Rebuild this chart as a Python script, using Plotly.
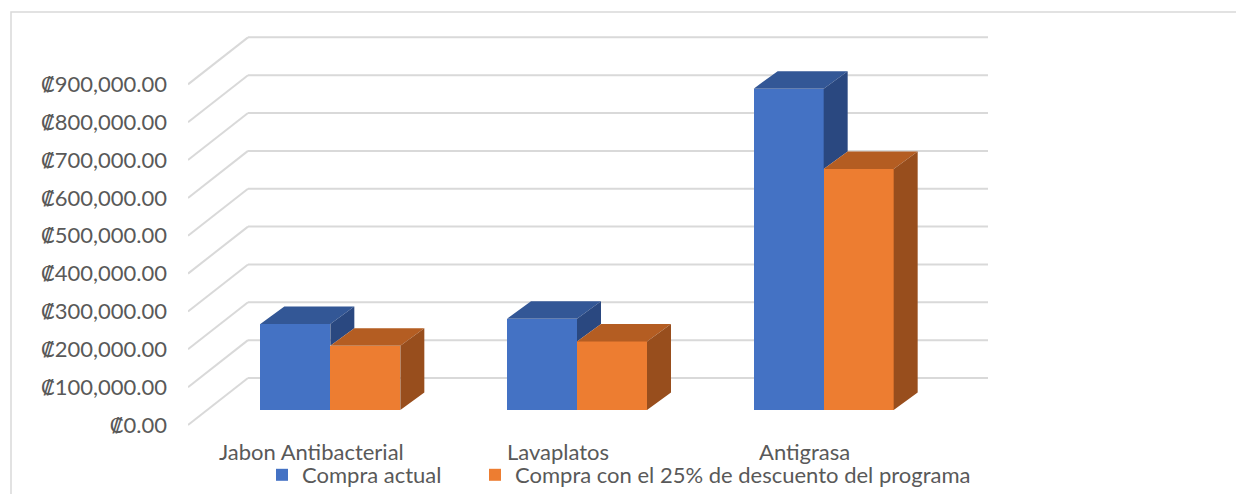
import plotly.graph_objects as go

# ---------------- data ----------------
categories = ["Jabon Antibacterial", "Lavaplatos", "Antigrasa"]
series_names = ["Compra actual", "Compra con el 25% de descuento del programa"]
compra_actual = [227000, 241000, 849000]
compra_descuento = [170000, 181000, 637000]
y_ticks = [0, 100000, 200000, 300000, 400000, 500000, 600000, 700000, 800000, 900000]
currency = "₡"

# ---------------- styling / projection (screen pixels) ----------------
VIEW_W, VIEW_H = 1244, 494
OFF = 8                               # page body margin
FW, FH = VIEW_W - OFF, VIEW_H - OFF   # figure size
PX_PER_UNIT = 37.85 / 100000.0        # vertical pixels per value unit
X0, Y0 = 188, 425                     # front-left floor corner (screen px)
FLOOR_W = 740                         # floor width along category axis (px)
WALL_DX, WALL_DY = 60, 47             # depth vector of the whole floor (px)
BAR_FRONT_DX, BAR_FRONT_DY = 19, 15   # offset of bar front faces (px)
BAR_W = 70
BAR_DX, BAR_DY = 24, 17.5             # depth vector of a bar (px)
LEGEND_X = [262, 475]                 # left edge of each legend entry (screen px)

front_colors = ["#4472C4", "#ED7D31"]
top_colors = ["#335796", "#B45D22"]
side_colors = ["#2A4880", "#984E1D"]
grid_color = "#D9D9D9"
text_color = "#595959"
FONT = "Lato, 'DejaVu Sans', sans-serif"
FS = 22


def dv(px):
    """vertical pixel offset -> value units"""
    return px / PX_PER_UNIT


cat_w = FLOOR_W / len(categories)
series = [compra_actual, compra_descuento]
base = dv(BAR_FRONT_DY)
legend_ids = ["legend", "legend2"]

fig = go.Figure()

# front faces (bars)
for s, vals in enumerate(series):
    xs = [X0 + cat_w * (i + 0.5) + BAR_FRONT_DX + (s - 0.5) * BAR_W for i in range(len(categories))]
    fig.add_trace(go.Bar(
        x=xs, y=vals, base=[base] * len(vals), width=[BAR_W] * len(vals),
        name=series_names[s], marker=dict(color=front_colors[s], line=dict(width=0)),
        hoverinfo="skip", showlegend=True, legend=legend_ids[s],
    ))

# top and side faces
for s, vals in enumerate(series):
    tx, ty, sx, sy = [], [], [], []
    for i, val in enumerate(vals):
        xl = X0 + cat_w * (i + 0.5) + BAR_FRONT_DX + (s - 1) * BAR_W
        xr = xl + BAR_W
        top = base + val
        ddy = dv(BAR_DY)
        tx += [xl, xr, xr + BAR_DX, xl + BAR_DX, xl, None]
        ty += [top, top, top + ddy, top + ddy, top, None]
        # side face, hidden below the neighbouring bar in front of it
        low = base
        if s + 1 < len(series):
            low = base + min(val, series[s + 1][i])
        sx += [xr, xr, xr + BAR_DX, xr + BAR_DX, xr, None]
        sy += [low, top, top + ddy, low + ddy, low, None]
    fig.add_trace(go.Scatter(x=tx, y=ty, fill="toself", mode="none", fillcolor=top_colors[s],
                             hoverinfo="skip", showlegend=False))
    fig.add_trace(go.Scatter(x=sx, y=sy, fill="toself", mode="none", fillcolor=side_colors[s],
                             hoverinfo="skip", showlegend=False))

# gridlines: back wall + left wall diagonals
shapes = []
for t in y_ticks:
    yb = t + dv(WALL_DY)
    shapes.append(dict(type="line", xref="x", yref="y", x0=X0 + WALL_DX, x1=X0 + WALL_DX + FLOOR_W,
                       y0=yb, y1=yb, line=dict(color=grid_color, width=2), layer="below"))
    shapes.append(dict(type="line", xref="x", yref="y", x0=X0, x1=X0 + WALL_DX,
                       y0=t, y1=yb, line=dict(color=grid_color, width=2), layer="below"))

# chart border
plot_w = VIEW_W - X0
shapes.append(dict(type="rect", xref="paper", yref="paper",
                   x0=(11 - X0) / plot_w, x1=1.02, y0=-0.03, y1=(VIEW_H - 12) / FH,
                   line=dict(color=grid_color, width=1.5), fillcolor="rgba(0,0,0,0)", layer="below"))

legend_common = dict(orientation="h", xref="container", yref="container",
                     xanchor="left", y=(VIEW_H - 475) / FH, yanchor="middle",
                     font=dict(family=FONT, size=FS, color=text_color),
                     bgcolor="rgba(0,0,0,0)", itemclick=False, itemdoubleclick=False)

fig.update_layout(
    width=FW, height=FH,
    margin=dict(l=X0 - OFF, r=0, t=0, b=0, autoexpand=False),
    paper_bgcolor="white", plot_bgcolor="white",
    barmode="overlay", bargap=0,
    font=dict(family=FONT, size=FS, color=text_color),
    shapes=shapes,
    legend=dict(x=(LEGEND_X[0] - OFF) / FW, **legend_common),
    legend2=dict(x=(LEGEND_X[1] - OFF) / FW, **legend_common),
    showlegend=True,
)

fig.update_xaxes(
    range=[X0, VIEW_W], showgrid=False, zeroline=False, showline=False, ticks="",
    tickmode="array", tickvals=[X0 + cat_w * (i + 0.5) for i in range(len(categories))],
    ticktext=categories, anchor="free", position=(VIEW_H - 437) / FH, automargin=False,
    tickfont=dict(family=FONT, size=FS, color=text_color), fixedrange=True,
)
y_ticktext = ['<span style="font-family:\'DejaVu Sans\'">%s</span>%s' % (currency, format(t, ",.2f"))
              for t in y_ticks]
fig.update_yaxes(
    range=[dv(Y0 - VIEW_H), dv(Y0 - OFF)], showgrid=False, zeroline=False, showline=False, ticks="",
    tickmode="array", tickvals=y_ticks, ticktext=y_ticktext,
    ticklabelstandoff=20, automargin=False,
    tickfont=dict(family=FONT, size=FS, color=text_color), fixedrange=True,
)

fig.write_html("out.html")
